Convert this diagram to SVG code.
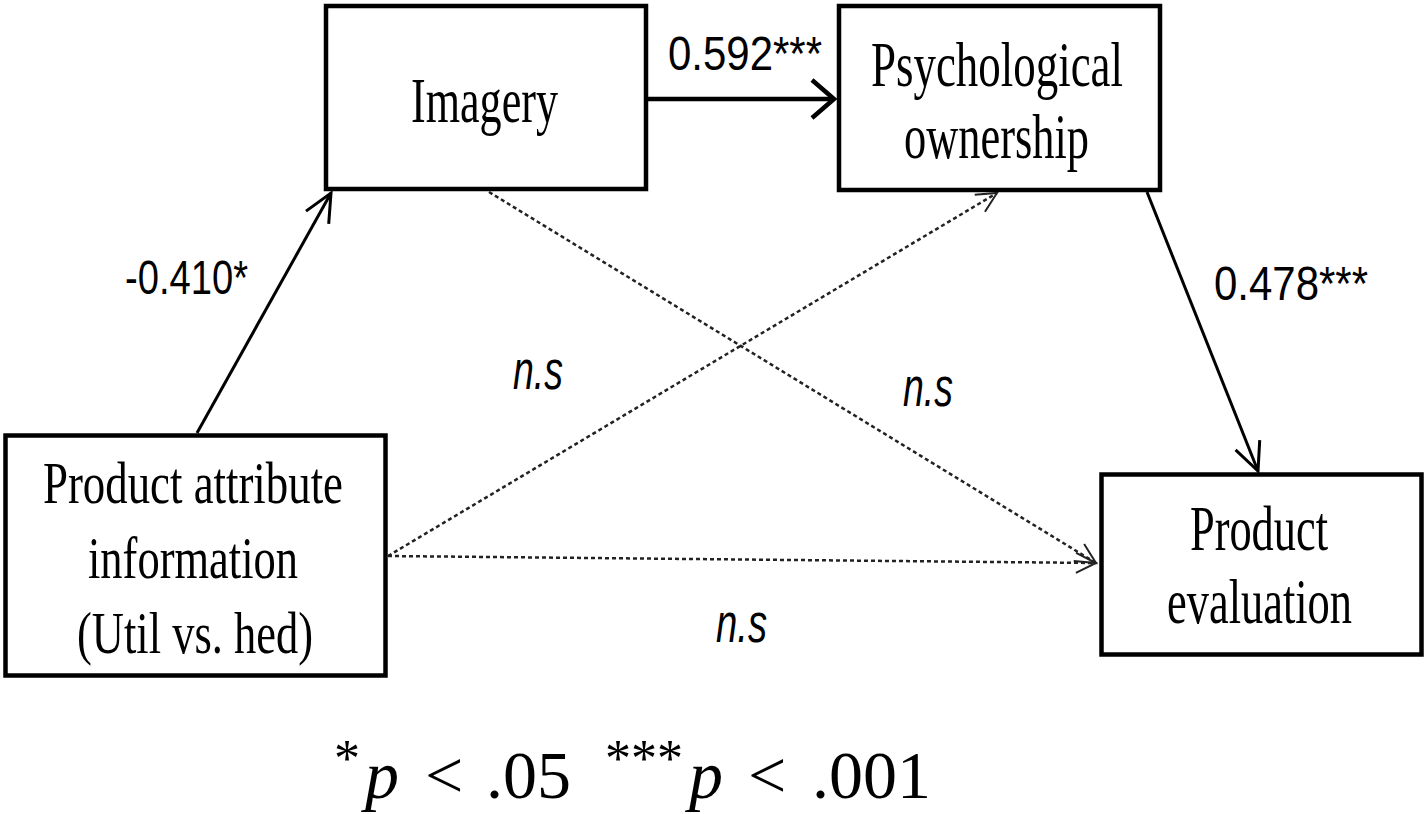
<svg xmlns="http://www.w3.org/2000/svg" width="1427" height="814" viewBox="0 0 1427 814">
<style>
.box{fill:#fff;stroke:#000;stroke-width:4.5}
.lbl{font-family:"Liberation Serif","Times New Roman",serif;fill:#000;text-anchor:middle}
.num{font-family:"Liberation Sans",Arial,sans-serif;font-size:49px;fill:#000}
.ns{font-family:"Liberation Sans",Arial,sans-serif;font-size:55px;font-style:italic;fill:#000}
.solid{fill:none;stroke:#000}
.dash{fill:none;stroke:#222;stroke-width:2.5;stroke-dasharray:4 3}
.foot{font-family:"Liberation Serif","Times New Roman",serif;fill:#000}
</style>
<defs>
<marker id="ahThick" markerUnits="userSpaceOnUse" markerWidth="40" markerHeight="50" viewBox="-30 -25 35 50" refX="0" refY="0" orient="auto" overflow="visible">
<path d="M-22,-19 L0,0 L-22,19" fill="none" stroke="#000" stroke-width="4.5"/>
</marker>
<marker id="ahMed" markerUnits="userSpaceOnUse" markerWidth="40" markerHeight="40" viewBox="-32 -20 36 40" refX="0" refY="0" orient="auto" overflow="visible">
<path d="M-28,-13 L0,0 L-28,13" fill="none" stroke="#000" stroke-width="3"/>
</marker>
<marker id="ahDash" markerUnits="userSpaceOnUse" markerWidth="30" markerHeight="30" viewBox="-25 -15 30 30" refX="0" refY="0" orient="auto" overflow="visible">
<path d="M-20,-10 L0,0 L-20,10" fill="none" stroke="#222" stroke-width="2"/>
</marker>
</defs>
<rect width="1427" height="814" fill="#fff"/>
<g id="connectors">
<line class="solid" x1="197" y1="433" x2="331" y2="193" stroke-width="3" marker-end="url(#ahMed)"/>
<line class="solid" x1="648" y1="99" x2="834" y2="99" stroke-width="4.5" marker-end="url(#ahThick)"/>
<line class="solid" x1="1147" y1="192" x2="1258" y2="471" stroke-width="3" marker-end="url(#ahMed)"/>
<line class="dash" x1="489" y1="192" x2="1096" y2="563" marker-end="url(#ahDash)"/>
<line class="dash" x1="388" y1="556" x2="997" y2="193" marker-end="url(#ahDash)"/>
<line class="dash" x1="388" y1="556" x2="1096" y2="563" marker-end="url(#ahDash)"/>
<text class="num" x="125" y="294" textLength="123" lengthAdjust="spacingAndGlyphs">-0.410*</text>
<text class="num" x="668" y="70" textLength="154" lengthAdjust="spacingAndGlyphs">0.592***</text>
<text class="num" x="1214" y="300" textLength="154" lengthAdjust="spacingAndGlyphs">0.478***</text>
<text class="ns" x="513" y="389" textLength="50" lengthAdjust="spacingAndGlyphs">n.s</text>
<text class="ns" x="903" y="406" textLength="50" lengthAdjust="spacingAndGlyphs">n.s</text>
<text class="ns" x="716" y="642" textLength="51" lengthAdjust="spacingAndGlyphs">n.s</text>
</g>
<g id="imagery">
<rect class="box" x="326" y="6" width="320" height="183"/>
<text class="lbl" x="484.5" y="122" font-size="63" textLength="147" lengthAdjust="spacingAndGlyphs">Imagery</text>
</g>
<g id="psych">
<rect class="box" x="839" y="6" width="321" height="184"/>
<text class="lbl" x="997" y="86" font-size="63" textLength="252" lengthAdjust="spacingAndGlyphs">Psychological</text>
<text class="lbl" x="996.5" y="158" font-size="63" textLength="185" lengthAdjust="spacingAndGlyphs">ownership</text>
</g>
<g id="attr">
<rect class="box" x="5.5" y="435.5" width="380" height="240" stroke-width="5"/>
<text class="lbl" x="193" y="503" font-size="60" textLength="300" lengthAdjust="spacingAndGlyphs">Product attribute</text>
<text class="lbl" x="193" y="578" font-size="60" textLength="210" lengthAdjust="spacingAndGlyphs">information</text>
<text class="lbl" x="195" y="653" font-size="60" textLength="236" lengthAdjust="spacingAndGlyphs">(Util vs. hed)</text>
</g>
<g id="footnote">
<text class="foot" x="334" y="776" font-size="52">*</text>
<text class="foot" x="365" y="798" font-size="68" font-style="italic">p</text>
<text class="foot" x="425" y="798" font-size="68">&lt;</text>
<text class="foot" x="486" y="798" font-size="68">.05</text>
<text class="foot" x="605" y="776" font-size="52">***</text>
<text class="foot" x="689" y="798" font-size="68" font-style="italic">p</text>
<text class="foot" x="748" y="798" font-size="68">&lt;</text>
<text class="foot" x="812" y="798" font-size="68">.001</text>
</g>
<g id="eval">
<rect class="box" x="1101.5" y="474.5" width="320" height="180" stroke-width="5"/>
<text class="lbl" x="1259" y="550" font-size="63" textLength="138" lengthAdjust="spacingAndGlyphs">Product</text>
<text class="lbl" x="1259.5" y="623" font-size="63" textLength="185" lengthAdjust="spacingAndGlyphs">evaluation</text>
</g>
</svg>
